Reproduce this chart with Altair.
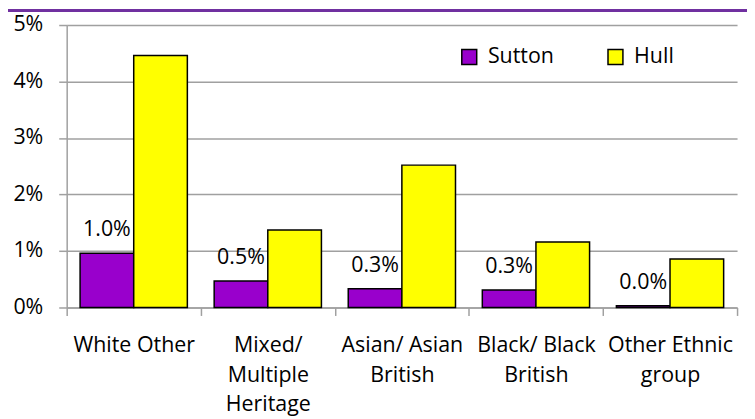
import altair as alt
import pandas as pd

categories = ["White Other", "Mixed/\nMultiple\nHeritage", "Asian/ Asian\nBritish",
              "Black/ Black\nBritish", "Other Ethnic\ngroup"]
series = ["Sutton", "Hull"]
sutton = [0.0096, 0.0047, 0.0033, 0.0031, 0.0003]
hull = [0.0446, 0.0137, 0.0252, 0.0116, 0.0086]
colors = ["#9900CC", "#FFFF00"]
y_ticks = [0, 0.01, 0.02, 0.03, 0.04, 0.05]

rows = []
for c, s, h in zip(categories, sutton, hull):
    rows.append({"category": c, "series": "Sutton", "value": s})
    rows.append({"category": c, "series": "Hull", "value": h})
df = pd.DataFrame(rows)

FONT = "Open Sans"
FS = 21.5
GRID = "#A0A0A0"

x_enc = alt.X("category:N", sort=categories,
              scale=alt.Scale(paddingInner=0, paddingOuter=0),
              axis=alt.Axis(title=None, labelAngle=0, tickBand="extent",
                            labelExpr="split(datum.label, '\\n')",
                            labelFontSize=FS, labelFont=FONT, labelColor="black",
                            labelLineHeight=30, labelPadding=19, tickSize=8,
                            tickColor=GRID, tickWidth=1.5, domainColor=GRID,
                            domainWidth=1.5, grid=False, labelBaseline="top"))
xoff = alt.XOffset("series:N", sort=series,
                   scale=alt.Scale(domain=series, paddingOuter=0.25, paddingInner=0))
y_enc = alt.Y("value:Q", scale=alt.Scale(domain=[0, 0.05], nice=False),
              axis=alt.Axis(title=None, values=y_ticks, format=".0%",
                            labelFontSize=FS, labelFont=FONT, labelColor="black",
                            labelPadding=16, tickSize=8, tickColor=GRID, tickWidth=1.5,
                            domainColor=GRID, domainWidth=1.5, gridColor=GRID,
                            gridWidth=1.5, grid=True))

bars = alt.Chart(df).mark_bar(stroke="black", strokeWidth=1.5, opacity=1).encode(
    x=x_enc, xOffset=xoff, y=y_enc,
    color=alt.Color("series:N", sort=series,
                    scale=alt.Scale(domain=series, range=colors),
                    legend=alt.Legend(title=None, orient="none", legendX=394, legendY=21,
                                      direction="horizontal", symbolType="square",
                                      symbolSize=225, symbolStrokeColor="black",
                                      symbolStrokeWidth=1.5, symbolOpacity=1,
                                      labelFontSize=FS, labelFont=FONT,
                                      labelColor="black", labelOffset=8,
                                      columnPadding=51, padding=0)))

labels = alt.Chart(df).transform_filter(alt.datum.series == "Sutton").mark_text(
    baseline="alphabetic", dy=-17, fontSize=FS, font=FONT, color="black").encode(
    x=x_enc, xOffset=xoff, y=y_enc, text=alt.Text("value:Q", format=".1%"))

band = alt.Chart(pd.DataFrame({"a": [0]})).mark_rule(color="#7030A0", strokeWidth=3).encode(
    x=alt.value(-60), x2=alt.value(700), y=alt.value(-14.5))

chart = alt.layer(band, bars, labels).properties(
    width=674, height=284,
    padding={"left": 59, "top": 16, "right": 10, "bottom": 111},
    autosize=alt.AutoSizeParams(type="none"),
).configure_view(stroke=None)

chart.save("out.html", embed_options={"renderer": "svg", "actions": False})
